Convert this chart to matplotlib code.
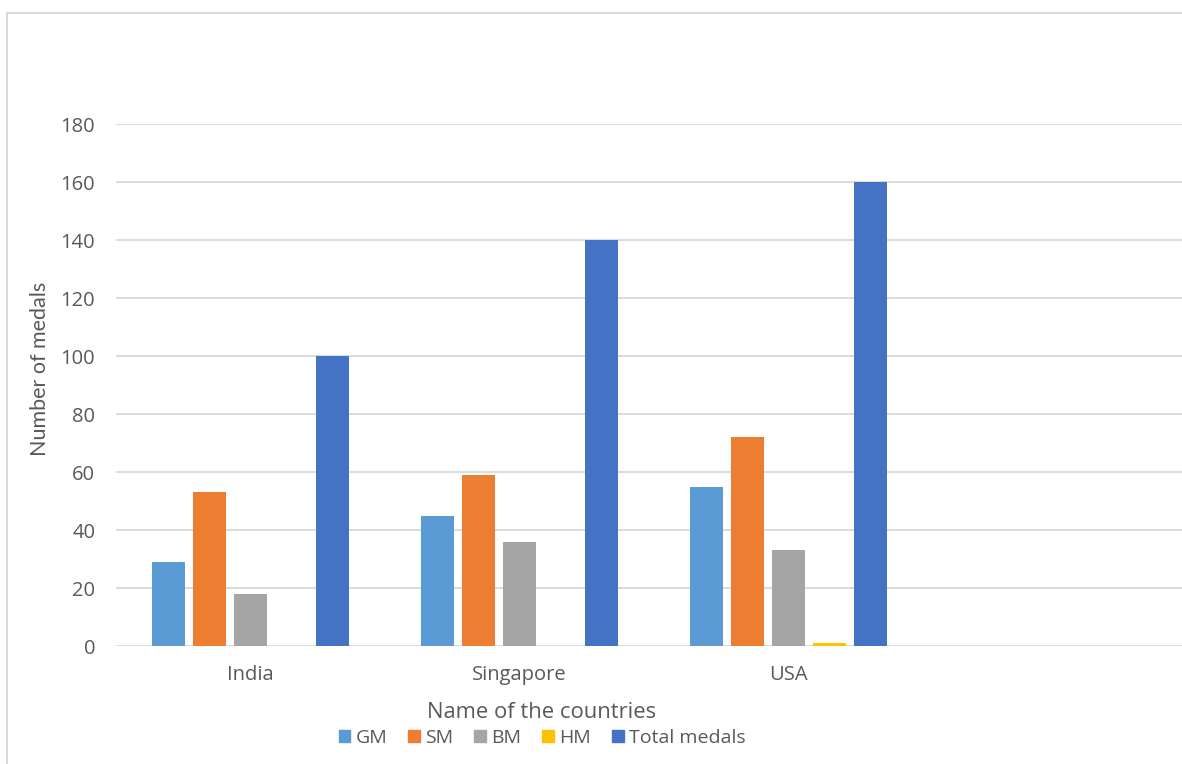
import matplotlib.pyplot as plt
import numpy as np
from matplotlib.lines import Line2D

countries = ['India', 'Singapore', 'USA', '']
series = ['GM', 'SM', 'BM', 'HM', 'Total medals']
gm = [29, 45, 55, 0]
sm = [53, 59, 72, 0]
bm = [18, 36, 33, 0]
hm = [0, 0, 1, 0]
total = [100, 140, 160, 0]
colors = ['#5B9BD5', '#ED7D31', '#A5A5A5', '#FFC000', '#4472C4']

plt.rcParams['font.family'] = ['Open Sans', 'DejaVu Sans']
text_color = '#595959'

fig = plt.figure(figsize=(11.82, 7.64), dpi=100)
# plot area runs past the right edge of the picture (cropped screenshot)
ax = fig.add_axes([116 / 1182, 1 - 646 / 764, 1076 / 1182, 522 / 764])

x = np.arange(len(countries))
step = 0.1524
width = 0.1227
for i, (vals, name) in enumerate(zip([gm, sm, bm, hm, total], series)):
    ax.bar(x + (i - 2) * step, vals, width=width, color=colors[i], label=name, zorder=3)

ax.set_xlim(-0.5, len(countries) - 0.5)
ax.set_ylim(0, 180)
ax.set_yticks(np.arange(0, 181, 20))
ax.set_xticks(x[:3])
ax.set_xticklabels(countries[:3])
ax.grid(axis='y', color='#D9D9D9', linewidth=1.3, zorder=0)
for s in ax.spines.values():
    s.set_visible(False)
ax.tick_params(axis='both', length=0, labelsize=14.5, colors=text_color)
ax.tick_params(axis='y', pad=15)
ax.tick_params(axis='x', pad=14)
ax.set_ylabel('Number of medals', fontsize=15.5, color=text_color,
              family=['Lato', 'DejaVu Sans'])
ax.yaxis.set_label_coords(-(116 - 50) / 1076, (646 - 369) / 522)

fig.text(542 / 1182, 1 - 712 / 764, 'Name of the countries', fontsize=15.8,
         color=text_color, ha='center', va='center')

handles = [plt.Rectangle((0, 0), 1, 1, color=c) for c in colors]
fig.legend(handles, series, loc='center', bbox_to_anchor=(542 / 1182, 1 - 738 / 764),
           ncol=5, frameon=False, fontsize=14, handlelength=0.6, handleheight=0.6,
           handletextpad=0.25, columnspacing=1.1, labelcolor=text_color,
           borderpad=0, borderaxespad=0)

# chart border
fig.add_artist(Line2D([7 / 1182, 7 / 1182], [0, 1 - 13 / 764], transform=fig.transFigure,
                      color='#D9D9D9', linewidth=1.5))
fig.add_artist(Line2D([7 / 1182, 1], [1 - 13 / 764, 1 - 13 / 764], transform=fig.transFigure,
                      color='#D9D9D9', linewidth=1.5))

plt.savefig('out.png', dpi=100, facecolor='white')
